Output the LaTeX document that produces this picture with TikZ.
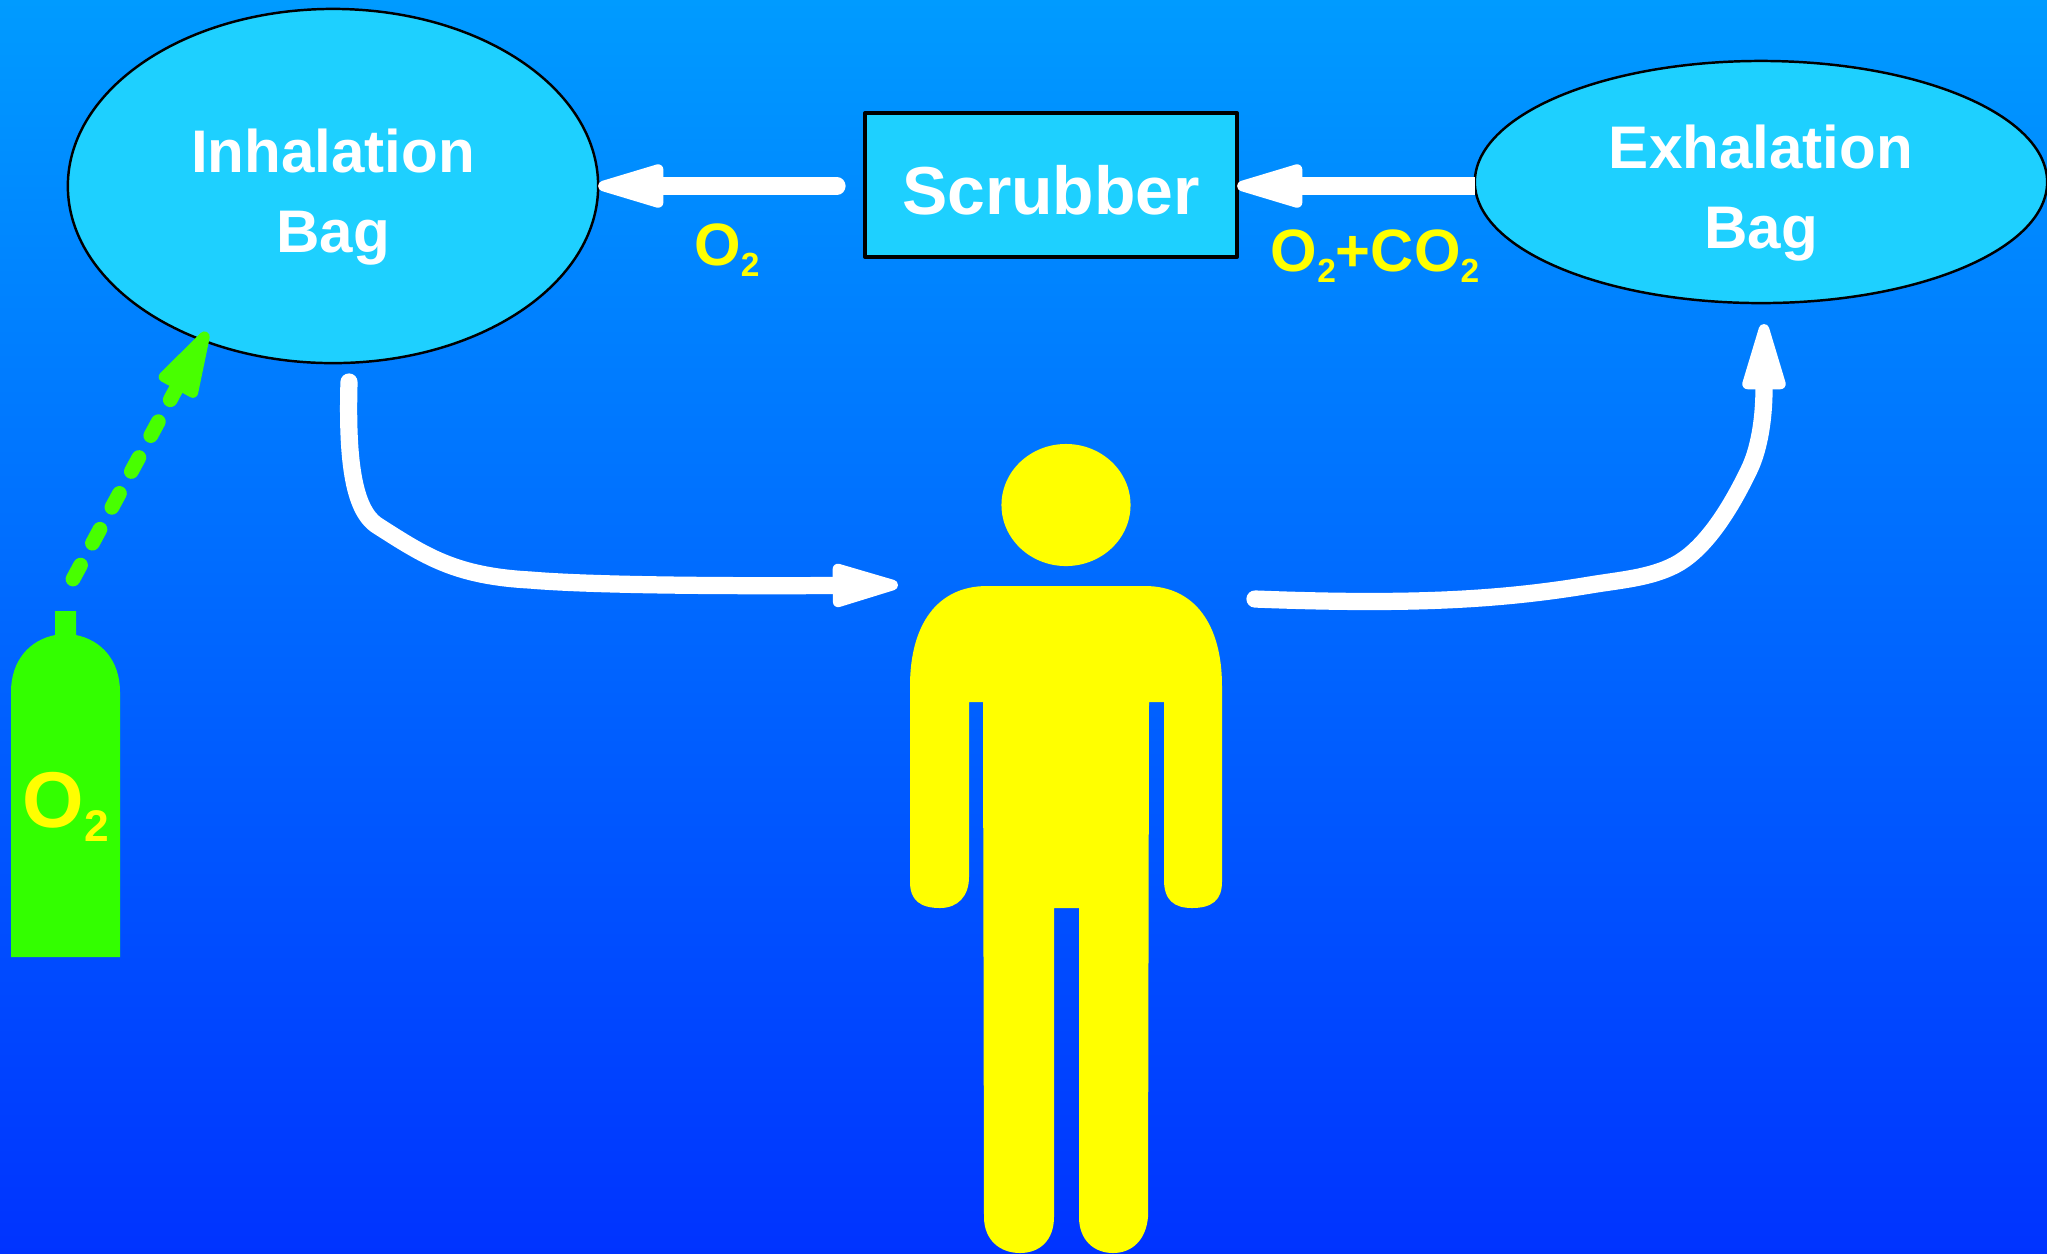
\documentclass[tikz,border=0pt]{standalone}
\usepackage{fontspec}
\setmainfont{Liberation Sans}
\usetikzlibrary{arrows.meta,shapes.geometric}
\definecolor{bagblue}{RGB}{30,208,255}
\definecolor{tankgreen}{RGB}{51,255,0}
\definecolor{dashgreen}{RGB}{72,255,0}
\definecolor{topblue}{RGB}{0,155,255}
\definecolor{lowblue}{RGB}{0,51,255}
\definecolor{manyellow}{RGB}{255,255,0}
\newcommand{\subtwo}{\raisebox{-.18em}{\scalebox{.56}{2}}}
\newcommand{\bagtop}{\rule{0pt}{18.5pt}}
\tikzset{
  bag/.style={draw=black,line width=.7pt,fill=bagblue,ellipse,inner sep=0pt,outer sep=0pt,align=center,text=white,font=\fontsize{17.1}{22.7}\selectfont\bfseries},
  flow/.style={->,draw=white,line width=4.9pt},
  gaslabel/.style={text=manyellow,inner sep=0pt,font=\fontsize{17}{20}\selectfont\bfseries}
}
\begin{document}
\begin{tikzpicture}[x=0.01cm,y=-0.01cm,>={Triangle[length=22.7pt,width=12.5pt,line width=3pt,round]},line join=round,line cap=round]
  \useasboundingbox (0,0) rectangle (2047,1253);
  \shade[top color=topblue,bottom color=lowblue] (0,0) rectangle (2047,1253);
  % bags and scrubber
  \node[bag,minimum width=5.3cm,minimum height=3.54cm] (inhal) at (333,186) {\bagtop Inhalation\\Bag};
  \node[bag,minimum width=5.72cm,minimum height=2.42cm] (exhal) at (1761,182) {\bagtop Exhalation\\Bag};
  \node[draw=black,line width=1pt,fill=bagblue,minimum width=3.72cm,minimum height=1.44cm,inner sep=0pt,outer sep=0pt,text=white,text height=16.5pt,text depth=0pt,font=\fontsize{19.3}{24}\selectfont\bfseries] (scrub) at (1051,185) {Scrubber};
  % man
  \node[ellipse,fill=manyellow,minimum width=1.29cm,minimum height=1.22cm,inner sep=0pt] (head) at (1066,505) {};
  \fill[manyellow] (987,586) -- (1145,586) .. controls (1195,586) and (1222,625) .. (1222,686)
    -- (1222,882) .. controls (1222,900) and (1212,908) .. (1192,908)
    .. controls (1174,908) and (1164,900) .. (1164,880) -- (1164,702) -- (1149,702)
    -- (1148,1217) .. controls (1146,1240) and (1132,1253) .. (1113,1253)
    .. controls (1094,1253) and (1079,1240) .. (1079,1217) -- (1079,908) -- (1054,908)
    -- (1054,1217) .. controls (1054,1240) and (1040,1253) .. (1020,1253)
    .. controls (1000,1253) and (984,1240) .. (984,1217) -- (983,702) -- (969,702)
    -- (969,877) .. controls (969,896) and (958,908) .. (940,908)
    .. controls (920,908) and (910,900) .. (910,882) -- (910,686)
    .. controls (910,625) and (937,586) .. (987,586) -- cycle;
  % tank
  \fill[tankgreen] (11,957) -- (11,692) .. controls (11,660) and (30,640) .. (55,635) -- (55,611) -- (76,611)
    -- (76,635) .. controls (101,640) and (120,660) .. (120,692) -- (120,957) -- cycle;
  \node[inner sep=0pt,text=manyellow,font=\fontsize{22.5}{26}\selectfont\bfseries] (tankgas) at (66,807) {O\subtwo};
  % free ends of the arrows
  \coordinate (scrubout) at (837,186);
  \coordinate (inhalout) at (349,382);
  \coordinate (chestin) at (898,585);
  \coordinate (chestout) at (1255,599);
  \coordinate (exhalin) at (1764,324);
  \coordinate (tanktop) at (73,579);
  \coordinate (tankin) at (207,332);
  \draw[flow,line cap=butt] (exhal.west |- 0,186) -- (scrub.east |- 0,186);
  \draw[flow] (scrubout) -- (inhal.east);
  \draw[flow] (inhalout) .. controls (347,455) and (352,510) .. (378,526)
    .. controls (425,556) and (455,576) .. (530,580)
    .. controls (600,586) and (760,586) .. (chestin);
  \draw[flow] (chestout) .. controls (1410,605) and (1500,600) .. (1590,585)
    .. controls (1620,580) and (1650,578) .. (1675,565)
    .. controls (1700,552) and (1725,520) .. (1749,470)
    .. controls (1765,437) and (1764,390) .. (exhalin);
  \draw[->,draw=dashgreen,line width=4.2pt,dash pattern=on 4.5pt off 7.1pt] (tanktop) -- (tankin);
  % gases
  \node[gaslabel] (gasone) at (727,250) {O\subtwo};
  \node[gaslabel] (gastwo) at (1375,256) {O\subtwo+CO\subtwo};
\end{tikzpicture}
\end{document}
